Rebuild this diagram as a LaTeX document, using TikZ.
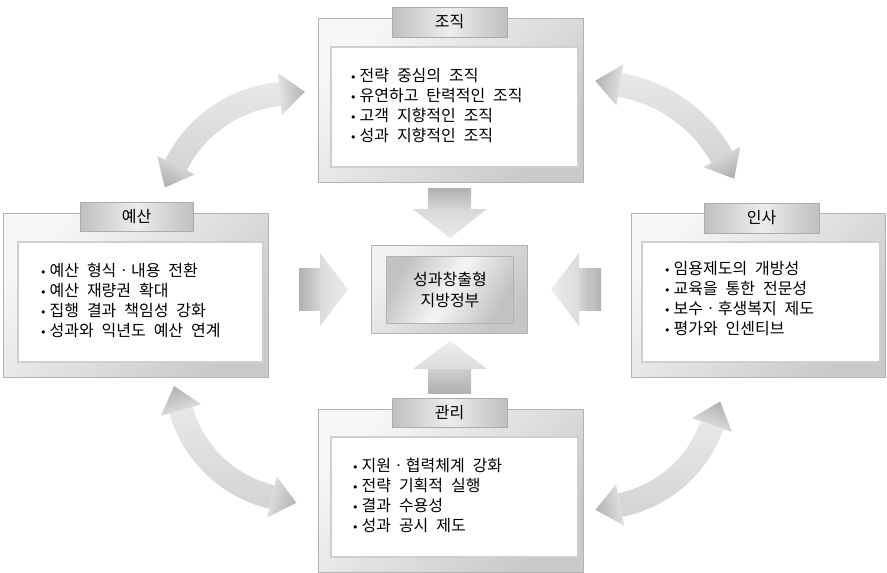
\documentclass[tikz,border=0pt]{standalone}
\usepackage{fontspec}
\setmainfont{Noto Sans CJK KR}[WordSpace=2.2]
\newfontfamily\bulfont{DejaVu Sans}
\usetikzlibrary{calc}
\tikzset{
 boxframe/.style={draw=gray!60, line width=0.8pt, top color=gray!6, bottom color=gray!42, shading angle=45},
 boxpanel/.style={draw=gray!38, line width=1.5pt, fill=white},
 tabbox/.style={draw=gray!65, line width=0.8pt, left color=gray!50, right color=gray!50, middle color=gray!14},
 tabtxt/.style={font=\fontsize{16}{16}\selectfont, inner sep=0pt},
 itemtxt/.style={font=\fontsize{16}{20}\selectfont, inner sep=0pt, anchor=west, text height=12pt, text depth=3pt},
 centtxt/.style={font=\fontsize{16}{21}\selectfont, inner sep=0pt, align=center},
 bandshade/.style={top color=gray!18, bottom color=gray!34, draw=none},
}
\newcommand\bul{{\bulfont\fontsize{11}{11}\selectfont •}\hspace{3pt}}
\newcommand\bw{12}
\newcommand\hw{21}
\newcommand\hl{25}
% cx, cy, R, a1, a2
\newcommand\curvedarrow[5]{%
 \pgfmathsetmacro\sa{180-#4}%
 \pgfmathsetmacro\sb{-#5}%
 \shade[bandshade] plot[domain=#4:#5, samples=40] ({#1+(#3+\bw)*cos(\x)},{#2+(#3+\bw)*sin(\x)})
   -- plot[domain=#5:#4, samples=40] ({#1+(#3-\bw)*cos(\x)},{#2+(#3-\bw)*sin(\x)}) -- cycle;
 \shade[top color=gray!20, bottom color=gray!62, shading angle=\sb]
   ({#1+(#3+\hw)*cos(#5)},{#2+(#3+\hw)*sin(#5)})
   -- ({#1+#3*cos(#5)+\hl*cos(#5+90)},{#2+#3*sin(#5)+\hl*sin(#5+90)})
   -- ({#1+(#3-\hw)*cos(#5)},{#2+(#3-\hw)*sin(#5)}) -- cycle;
 \shade[top color=gray!20, bottom color=gray!62, shading angle=\sa]
   ({#1+(#3+\hw)*cos(#4)},{#2+(#3+\hw)*sin(#4)})
   -- ({#1+#3*cos(#4)+\hl*cos(#4-90)},{#2+#3*sin(#4)+\hl*sin(#4-90)})
   -- ({#1+(#3-\hw)*cos(#4)},{#2+(#3-\hw)*sin(#4)}) -- cycle;
}
\begin{document}
\begin{tikzpicture}[x=1pt,y=-1pt]
\useasboundingbox (0,0) rectangle (887,573);
\fill[white] (0,0) rectangle (887,573);

% curved double arrows
\curvedarrow{291.7}{222.8}{129.3}{206.5}{264.8}
\curvedarrow{595.5}{227.9}{145}{279.7}{330.7}
\curvedarrow{300.3}{376.3}{124}{103.2}{164.2}
\curvedarrow{596.2}{384.7}{122.6}{19.2}{78.8}

% top box
\draw[boxframe] (318,18) rectangle (583,182);
\draw[boxpanel] (331,47) rectangle (578,167);
\draw[tabbox] (392,7) rectangle (507,37);
\node[tabtxt] (tOrg) at (449.5,22) {조직};
\node[itemtxt] (o1) at (350,77) {\bul 전략 중심의 조직};
\node[itemtxt] (o2) at (350,97) {\bul 유연하고 탄력적인 조직};
\node[itemtxt] (o3) at (350,117) {\bul 고객 지향적인 조직};
\node[itemtxt] (o4) at (350,137) {\bul 성과 지향적인 조직};

% left box
\draw[boxframe] (3,213) rectangle (268,377);
\draw[boxpanel] (18,242) rectangle (263,362);
\draw[tabbox] (80,202) rectangle (193,231);
\node[tabtxt] (tBud) at (136.5,216.5) {예산};
\node[itemtxt] (b1) at (40,272) {\bul 예산 형식ㆍ내용 전환};
\node[itemtxt] (b2) at (40,292) {\bul 예산 재량권 확대};
\node[itemtxt] (b3) at (40,312) {\bul 집행 결과 책임성 강화};
\node[itemtxt] (b4) at (40,332) {\bul 성과와 익년도 예산 연계};

% right box
\draw[boxframe] (631,213) rectangle (885,377);
\draw[boxpanel] (642,242) rectangle (880,362);
\draw[tabbox] (704,203) rectangle (819,233);
\node[tabtxt] (tHR) at (761.5,218) {인사};
\node[itemtxt] (h1) at (664,270) {\bul 임용제도의 개방성};
\node[itemtxt] (h2) at (664,290) {\bul 교육을 통한 전문성};
\node[itemtxt] (h3) at (664,310) {\bul 보수ㆍ후생복지 제도};
\node[itemtxt] (h4) at (664,330) {\bul 평가와 인센티브};

% bottom box
\draw[boxframe] (318,409) rectangle (583,572);
\draw[boxpanel] (331,437) rectangle (578,557);
\draw[tabbox] (392,398) rectangle (507,427);
\node[tabtxt] (tMng) at (449.5,412.5) {관리};
\node[itemtxt] (m1) at (352,467) {\bul 지원ㆍ협력체계 강화};
\node[itemtxt] (m2) at (352,487) {\bul 전략 기획적 실행};
\node[itemtxt] (m3) at (352,507) {\bul 결과 수용성};
\node[itemtxt] (m4) at (352,527) {\bul 성과 공시 제도};

% center box
\draw[draw=gray!60, line width=0.8pt, top color=gray!10, bottom color=gray!45, shading angle=45] (371,245) rectangle (527,333);
\draw[draw=gray!60, line width=0.8pt, top color=gray!48, bottom color=gray!48, middle color=gray!8, shading angle=60] (386,256) rectangle (513,323);
\node[centtxt] (ctr) at (450,290) {성과창출형\\지방정부};

% block arrows toward the center
\shade[top color=gray!62, bottom color=gray!32] (428,188) rectangle (471,209);
\shade[top color=gray!30, bottom color=gray!18] (413,209) -- (487,209) -- (450,238) -- cycle;
\shade[top color=gray!38, bottom color=gray!62] (428,369) rectangle (471,393);
\shade[top color=gray!14, bottom color=gray!28] (450,341) -- (487,369) -- (413,369) -- cycle;
\shade[left color=gray!62, right color=gray!32] (299,268) rectangle (320,310);
\shade[left color=gray!28, right color=gray!15] (320,253) -- (348,289.5) -- (320,326) -- cycle;
\shade[left color=gray!32, right color=gray!52] (579,268) rectangle (591,310);
\shade[left color=gray!45, right color=gray!62] (591,268) rectangle (601,310);
\shade[left color=gray!15, right color=gray!28] (551,289.5) -- (579,253) -- (579,326) -- cycle;
\end{tikzpicture}
\end{document}
